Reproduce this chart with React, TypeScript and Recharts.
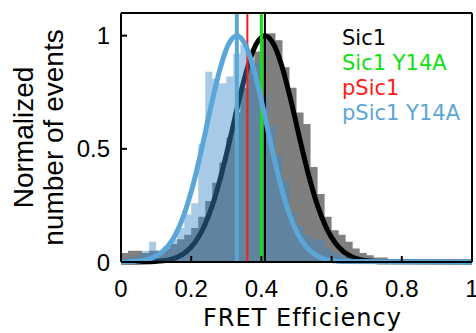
import { ComposedChart, Area, Line, XAxis, YAxis, ReferenceLine, Legend, Label } from 'recharts';

// histogram bins are 0.02 wide, starting at 0
const BIN = 0.02;

const sic1Hist = [
  0.04, 0.05, 0.05, 0.04, 0.05, 0.05, 0.06, 0.08, 0.10, 0.12,
  0.15, 0.20, 0.27, 0.35, 0.44, 0.55, 0.66, 0.77, 0.86, 0.93,
  1.00, 1.01, 0.98, 0.86, 0.77, 0.66, 0.61, 0.42, 0.30, 0.20,
  0.14, 0.12, 0.09, 0.06, 0.04, 0.03, 0.02, 0.02, 0.01, 0.01,
  0.01, 0.005, 0.005, 0, 0, 0, 0, 0, 0, 0,
];

const pSic1Y14AHist = [
  0.01, 0.02, 0.03, 0.05, 0.09, 0.05, 0.07, 0.10, 0.15, 0.21,
  0.26, 0.52, 0.84, 0.81, 0.79, 0.82, 0.92, 0.96, 0.90, 0.88,
  0.73, 0.60, 0.47, 0.36, 0.22, 0.16, 0.12, 0.10, 0.10, 0.06,
  0.04, 0.03, 0.02, 0.01, 0.01, 0.01, 0.005, 0.005, 0.01, 0.005,
  0.01, 0.01, 0.01, 0.01, 0.01, 0.005, 0, 0, 0, 0,
];

// gaussian fits
const sic1FitX = [
  0, 0.085, 0.11, 0.135, 0.16, 0.185, 0.21, 0.235, 0.26, 0.285, 0.31, 0.335, 0.36, 0.385,
  0.41, 0.435, 0.46, 0.485, 0.51, 0.535, 0.56, 0.585, 0.61, 0.635, 0.66, 0.685, 0.71, 0.735, 1,
];
const sic1FitY = [
  0, 0.0015, 0.004, 0.009, 0.021, 0.044, 0.085, 0.151, 0.249, 0.381, 0.539, 0.707, 0.857, 0.962,
  1, 0.962, 0.857, 0.707, 0.539, 0.381, 0.249, 0.151, 0.085, 0.044, 0.021, 0.009, 0.004, 0.0015, 0,
];

const pSic1Y14AFitX = [
  0, 0.03, 0.055, 0.08, 0.105, 0.13, 0.155, 0.18, 0.205, 0.23, 0.255, 0.28, 0.305,
  0.33, 0.355, 0.38, 0.405, 0.43, 0.455, 0.48, 0.505, 0.53, 0.555, 0.58, 0.605, 0.63, 1,
];
const pSic1Y14AFitY = [
  0, 0.002, 0.005, 0.013, 0.03, 0.063, 0.12, 0.211, 0.339, 0.5, 0.678, 0.841, 0.958,
  1, 0.958, 0.841, 0.678, 0.5, 0.339, 0.211, 0.12, 0.063, 0.03, 0.013, 0.005, 0.002, 0,
];

// mean FRET of each sample
const sampleNames = ['Sic1', 'Sic1 Y14A', 'pSic1', 'pSic1 Y14A'];
const sampleMeans = [0.41, 0.4, 0.36, 0.33];

const xTicks = [0, 0.2, 0.4, 0.6, 0.8, 1];
const yTicks = [0, 0.5, 1];

const COLORS: Record<string, string> = {
  'Sic1': '#000000',
  'Sic1 Y14A': '#11e011',
  'pSic1': '#ff1a1a',
  'pSic1 Y14A': '#5aa6d8',
};
const LINE_W: Record<string, number> = { 'Sic1': 2, 'Sic1 Y14A': 3, 'pSic1': 2, 'pSic1 Y14A': 4 };

const toSteps = (hist: number[]) =>
  hist.map((y, i) => ({ x: i * BIN, y })).concat({ x: hist.length * BIN, y: hist[hist.length - 1] });

const toPoints = (xs: number[], ys: number[]) => xs.map((x, i) => ({ x, y: ys[i] }));

const axisStyle = { stroke: '#000', strokeWidth: 2 };
const tickFont = { fill: '#000', fontSize: 24, fontFamily: 'Liberation Sans, Arial, sans-serif' };

const LegendText = () => (
  <div style={{ fontFamily: 'DejaVu Sans, Verdana, sans-serif', fontSize: 21, lineHeight: '25px' }}>
    {sampleNames.map((n) => (
      <div key={n} style={{ color: COLORS[n], whiteSpace: 'nowrap' }}>{n}</div>
    ))}
  </div>
);

export default function App() {
  return (
    <div style={{ position: 'absolute', left: 0, top: 0, background: '#fff' }}>
      <ComposedChart width={476} height={333} margin={{ top: 12, right: 3, bottom: 0, left: 0 }}>
        <XAxis
          dataKey="x"
          type="number"
          domain={[0, 1]}
          ticks={xTicks}
          interval={0}
          height={71}
          axisLine={axisStyle}
          tickLine={axisStyle}
          tickSize={-6}
          tickMargin={24}
          tick={tickFont}
        >
          <Label
            value="FRET Efficiency"
            position="insideBottom"
            offset={7}
            dx={6}
            style={{ fill: '#000', fontSize: 24, letterSpacing: 1, fontFamily: 'DejaVu Sans, Verdana, sans-serif' }}
          />
        </XAxis>
        <XAxis
          xAxisId="top"
          orientation="top"
          dataKey="x"
          type="number"
          domain={[0, 1]}
          ticks={xTicks}
          interval={0}
          height={1}
          axisLine={axisStyle}
          tickLine={axisStyle}
          tickSize={-6}
          tick={false}
        />
        <YAxis
          type="number"
          domain={[0, 1.1]}
          ticks={yTicks}
          interval={0}
          width={121}
          axisLine={axisStyle}
          tickLine={axisStyle}
          tickSize={-6}
          tickMargin={17}
          tick={tickFont}
        >
          <Label
            value="Normalized"
            angle={-90}
            position="insideLeft"
            offset={23}
            style={{ textAnchor: 'middle', fill: '#000', fontSize: 28, fontFamily: 'Liberation Sans, Arial, sans-serif' }}
          />
          <Label
            value="number of events"
            angle={-90}
            position="insideLeft"
            offset={53}
            style={{ textAnchor: 'middle', fill: '#000', fontSize: 28, fontFamily: 'Liberation Sans, Arial, sans-serif' }}
          />
        </YAxis>
        <YAxis
          yAxisId="right"
          orientation="right"
          type="number"
          domain={[0, 1.1]}
          ticks={yTicks}
          interval={0}
          width={1}
          axisLine={axisStyle}
          tickLine={axisStyle}
          tickSize={-6}
          tick={false}
        />

        <Area
          data={toSteps(sic1Hist)}
          dataKey="y"
          type="stepAfter"
          fill="#7f7f7f"
          fillOpacity={1}
          stroke="none"
          dot={false}
          activeDot={false}
          isAnimationActive={false}
        />
        {/* fit drawn as an unfilled area so the blue histogram covers it */}
        <Area
          data={toPoints(sic1FitX, sic1FitY)}
          dataKey="y"
          type="monotone"
          fill="none"
          stroke={COLORS['Sic1']}
          strokeWidth={5}
          dot={false}
          activeDot={false}
          isAnimationActive={false}
        />
        <ReferenceLine x={sampleMeans[0]} stroke={COLORS['Sic1']} strokeWidth={LINE_W['Sic1']} />
        <ReferenceLine x={sampleMeans[2]} stroke={COLORS['pSic1']} strokeWidth={LINE_W['pSic1']} />
        <Area
          data={toSteps(pSic1Y14AHist)}
          xAxisId="top"
          yAxisId="right"
          dataKey="y"
          type="stepAfter"
          fill="#3c8cc8"
          fillOpacity={0.45}
          stroke="none"
          dot={false}
          activeDot={false}
          isAnimationActive={false}
        />
        <ReferenceLine x={sampleMeans[1]} stroke={COLORS['Sic1 Y14A']} strokeWidth={LINE_W['Sic1 Y14A']} />
        <ReferenceLine x={sampleMeans[3]} stroke={COLORS['pSic1 Y14A']} strokeWidth={LINE_W['pSic1 Y14A']} />
        <Line
          data={toPoints(pSic1Y14AFitX, pSic1Y14AFitY)}
          dataKey="y"
          type="monotone"
          stroke={COLORS['pSic1 Y14A']}
          strokeWidth={5}
          dot={false}
          activeDot={false}
          isAnimationActive={false}
        />
        <Legend
          layout="vertical"
          align="center"
          verticalAlign="middle"
          content={LegendText}
          wrapperStyle={{ left: 342, top: 26, width: 'auto', height: 'auto' }}
        />
      </ComposedChart>
    </div>
  );
}
